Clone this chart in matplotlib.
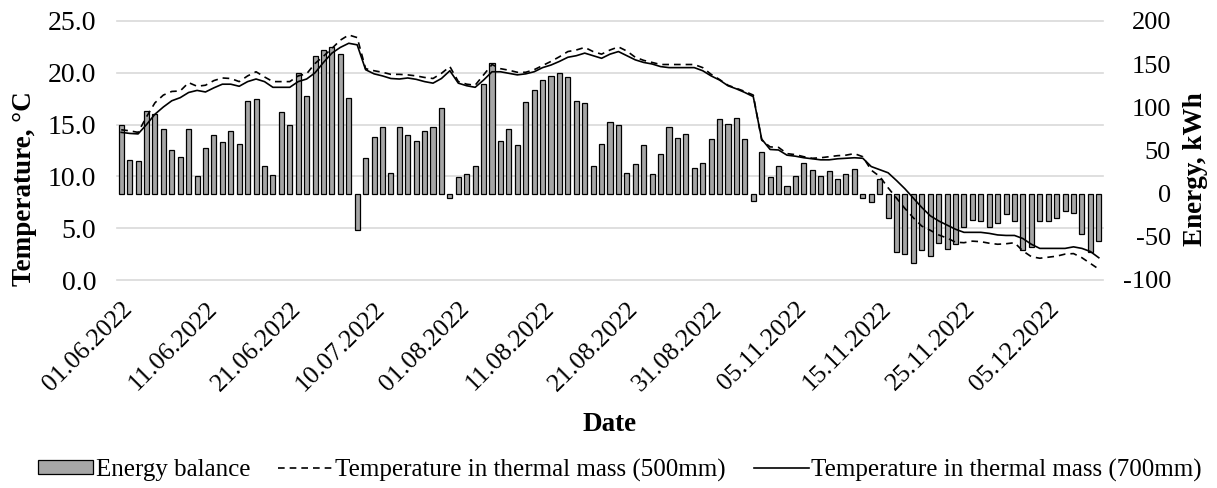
import matplotlib
matplotlib.use("Agg")
import matplotlib.pyplot as plt
import numpy as np
from matplotlib.transforms import blended_transform_factory

plt.rcParams['font.family'] = ['Liberation Serif', 'DejaVu Serif']

# ---- data ----
energy_balance = [
    79.5, 39, 37.5, 96, 92.7, 74.5, 51, 42.5, 74.5, 20.5, 52.5, 67.6, 59.5, 73, 57.5, 107.7,
    109.2, 32, 22, 94.6, 79.5, 139.8, 113, 159.8,
    166.8, 170, 161.4, 111.2, -42, 41, 66.2, 77.6, 24, 77.6, 67.6, 61, 73, 77.6, 99.6, -4.6,
    19, 22.4, 32.4, 126.6, 151.4, 61, 74.5, 56,
    106.2, 119.7, 131.3, 136.3, 139.8, 134.7, 107.7, 104.6, 32.4, 57.5, 82.6, 79.5, 24, 34,
    56, 22.4, 46, 77.6, 64.5, 69.5, 29.4, 36, 63, 86.4,
    81, 87.6, 63, -8.5, 48.5, 19, 32.2, 9, 20.5, 35.5, 27.2, 20.5, 25.8, 17.2, 22.4, 28.8,
    -4.6, -9.7, 17.2, -28.3,
    -67.2, -70.3, -80.7, -65.2, -72.2, -56.7, -63.7, -58.7, -38.2, -30.5, -32, -38.2, -33.6,
    -23.5, -32, -65.2, -62.2, -32, -32, -28.5, -20, -22, -47, -67.2, -55.3,
]

temp_500mm = [
    14.5, 14.4, 14.25, 15.75, 17.1, 17.85, 18.2, 18.25, 19.05, 18.7, 18.8, 19.25, 19.5, 19.45,
    19.15, 19.7, 20.1, 19.6, 19.15, 19.15, 19.15, 19.7, 19.9, 20.9,
    21.6, 22.35, 23.15, 23.65, 23.4, 20.4, 20.2, 20.05, 19.85, 19.85, 19.8, 19.7, 19.55, 19.45,
    19.95, 20.6, 19.15, 18.9, 18.8, 19.8, 20.8, 20.4, 20.25, 20.05,
    20.05, 20.3, 20.7, 21.1, 21.55, 22.05, 22.2, 22.45, 22.05, 21.8, 22.2, 22.5, 22.1, 21.5,
    21.2, 21.0, 20.8, 20.8, 20.8, 20.8, 20.8, 20.5, 19.85, 19.35,
    18.8, 18.5, 18.2, 17.85, 13.5, 12.85, 12.8, 12.2, 12.1, 11.9, 11.75, 11.8, 11.9, 12.0,
    12.05, 12.2, 11.9, 10.6, 10.0, 8.9, 7.9, 6.9, 6.0, 5.2, 4.8, 4.35, 4.05, 3.65,
    3.6, 3.75, 3.7, 3.55, 3.45, 3.5, 3.6, 2.8, 2.25, 2.1, 2.2, 2.3, 2.5, 2.55, 2.15, 1.6, 1.05,
]

temp_700mm = [
    14.25, 14.15, 14.1, 15.0, 16.0, 16.7, 17.3, 17.6, 18.1, 18.3, 18.15, 18.55, 18.9, 18.9,
    18.7, 19.15, 19.4, 19.15, 18.6, 18.6, 18.6, 19.15, 19.4, 20.0,
    21.0, 21.9, 22.45, 22.85, 22.7, 20.3, 19.9, 19.7, 19.45, 19.4, 19.5, 19.37, 19.15, 19.0,
    19.45, 20.2, 19.0, 18.75, 18.6, 19.3, 20.1, 20.1, 19.95, 19.8,
    19.9, 20.1, 20.5, 20.75, 21.1, 21.5, 21.65, 21.9, 21.65, 21.4, 21.8, 22.05, 21.65, 21.25,
    21.0, 20.85, 20.6, 20.5, 20.5, 20.5, 20.5, 20.2, 19.7, 19.3,
    18.75, 18.45, 18.1, 17.7, 13.6, 12.6, 12.55, 12.05, 11.95, 11.8, 11.7, 11.6, 11.6, 11.7,
    11.75, 11.8, 11.75, 10.95, 10.65, 10.35, 9.6, 8.8, 7.9, 7.0, 6.2, 5.7, 5.3, 4.9,
    4.6, 4.6, 4.6, 4.5, 4.35, 4.3, 4.3, 4.0, 3.45, 3.05, 3.05, 3.05, 3.05, 3.2, 3.05, 2.75, 2.15,
]

tick_labels = ["01.06.2022", "11.06.2022", "21.06.2022", "10.07.2022", "01.08.2022",
               "11.08.2022", "21.08.2022", "31.08.2022", "05.11.2022", "15.11.2022",
               "25.11.2022", "05.12.2022"]
tick_step = 10

temp_ticks = [0, 5, 10, 15, 20, 25]
energy_ticks = [-100, -50, 0, 50, 100, 150, 200]

# ---- figure ----
W, H = 1217, 488
fig = plt.figure(figsize=(W / 100, H / 100), dpi=100)
left, right, top, bottom = 117, 1103, 21, 280
ax_e = fig.add_axes([left / W, 1 - bottom / H, (right - left) / W, (bottom - top) / H])
ax_t = ax_e.twinx()

n = len(energy_balance)
x = np.arange(n)

# bars (energy axis)
bars = ax_e.bar(x, energy_balance, width=0.6, color='#a6a6a6', edgecolor='black',
                linewidth=0.9, zorder=3, label='Energy balance')
ax_e.set_ylim(-100, 200)
ax_e.set_xlim(-0.5, n - 0.5)

# lines (temperature axis)
l500, = ax_t.plot(x, temp_500mm, color='black', linewidth=1.2, linestyle=(0, (4, 3)),
                  label='Temperature in thermal mass (500mm)')
l700, = ax_t.plot(x, temp_700mm, color='black', linewidth=1.2,
                  label='Temperature in thermal mass (700mm)')
ax_t.set_ylim(0, 25)

# gridlines at temperature ticks, behind bars
trans = blended_transform_factory(ax_e.transAxes, ax_t.transData)
for t in temp_ticks:
    ax_e.plot([0, 1], [t, t], transform=trans, color='#d9d9d9', linewidth=1.2, zorder=0,
              clip_on=False)

# axes cosmetics
for a in (ax_e, ax_t):
    for s in a.spines.values():
        s.set_visible(False)
    a.patch.set_visible(False)

ax_t.yaxis.tick_left()
ax_t.yaxis.set_label_position('left')
ax_e.yaxis.tick_right()
ax_e.yaxis.set_label_position('right')

fs = 18
ax_t.set_yticks(temp_ticks)
ax_t.set_yticklabels([f"{t:.1f}" for t in temp_ticks], fontsize=20)
ax_t.tick_params(axis='y', length=0, pad=15)

ax_e.set_yticks(energy_ticks)
ax_e.set_yticklabels([str(v) for v in energy_ticks], fontsize=19)
ax_e.tick_params(axis='y', length=0, pad=49)
for lab in ax_e.get_yticklabels():
    lab.set_horizontalalignment('right')

ax_e.set_xticks(x[::tick_step])
ax_e.set_xticklabels(tick_labels, fontsize=18.5, rotation=45, ha='right',
                     rotation_mode='anchor')
ax_e.tick_params(axis='x', length=0, pad=13)

ax_t.set_ylabel('Temperature, °C', fontsize=19.5, fontweight='bold')
ax_t.yaxis.set_label_coords(-0.081, 0.351)
ax_e.set_ylabel('Energy, kWh', fontsize=19.5, fontweight='bold')
ax_e.yaxis.set_label_coords(1.081, 0.429)
ax_e.set_xlabel('Date', fontsize=19.5, fontweight='bold')
ax_e.xaxis.set_label_coords(0.5, (280 - 412) / 259)

fig.legend(handles=[bars, l500, l700], loc='center', bbox_to_anchor=(620 / W, 1 - 470 / H),
           ncol=3, frameon=False, fontsize=fs, handlelength=2.2, handletextpad=0.1,
           columnspacing=1.1, handleheight=0.5)

fig.savefig('out.png', dpi=100)
